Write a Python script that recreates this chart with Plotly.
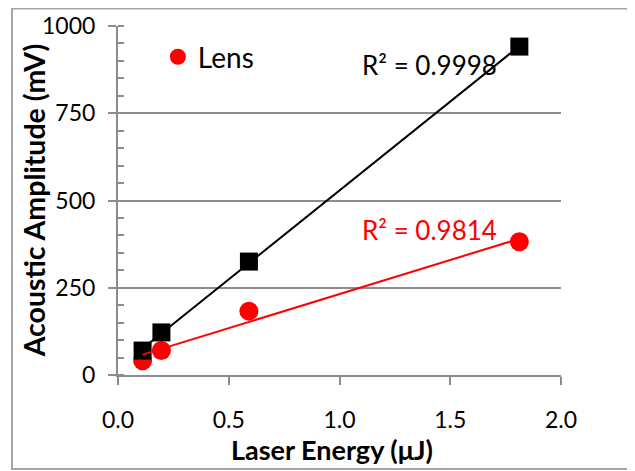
import numpy as np
import plotly.graph_objects as go

# Data
energy = [0.111, 0.196, 0.591, 1.812]          # Laser Energy (µJ)
amp_black = [70, 122, 325, 941]                # Acoustic amplitude, black series (mV)
amp_lens = [41, 70, 183, 382]                  # Acoustic amplitude, "Lens" series (mV)
r2_black_label = "R² = 0.9998"
r2_lens_label = "R² = 0.9814"
x_ticks = [0.0, 0.5, 1.0, 1.5, 2.0]
x_tick_text = ["0.0", "0.5", "1.0", "1.5", "2.0"]
y_ticks = [0, 250, 500, 750, 1000]

FONT = "Lato"
GRID = "#8c8c8c"

def fit_line(x, y):
    k, b = np.polyfit(x, y, 1)
    xs = [min(x), max(x)]
    return xs, [k * v + b for v in xs]

fig = go.Figure()

# red markers (drawn first)
fig.add_trace(go.Scatter(
    x=energy, y=amp_lens, mode="markers", name="Lens",
    marker=dict(symbol="circle", size=19, color="#ff0000"),
    showlegend=True))
# black markers
fig.add_trace(go.Scatter(
    x=energy, y=amp_black, mode="markers", name="Series1",
    marker=dict(symbol="square", size=18, color="#000000"),
    showlegend=False))
# trendlines
bx, by = fit_line(energy, amp_black)
fig.add_trace(go.Scatter(x=bx, y=by, mode="lines", line=dict(color="#000000", width=2),
                         showlegend=False, hoverinfo="skip"))
rx, ry = fit_line(energy, amp_lens)
fig.add_trace(go.Scatter(x=rx, y=ry, mode="lines", line=dict(color="#ff0000", width=2),
                         showlegend=False, hoverinfo="skip"))

fig.add_annotation(x=1.093, y=888, xref="x", yref="y", text=r2_black_label,
                   showarrow=False, xanchor="left", yanchor="middle",
                   font=dict(family=FONT, size=26, color="#000000"))
fig.add_annotation(x=1.093, y=415, xref="x", yref="y", text=r2_lens_label,
                   showarrow=False, xanchor="left", yanchor="middle",
                   font=dict(family=FONT, size=26, color="#ff0000"))
# axis titles
fig.add_annotation(x=-0.19, y=0.5, xref="paper", yref="paper",
                   text="<b>Acoustic Amplitude (mV)</b>", textangle=-90,
                   showarrow=False, xanchor="center", yanchor="middle",
                   font=dict(family=FONT, size=28.5, color="#000000"))
fig.add_annotation(x=0.482, y=-0.213, xref="paper", yref="paper",
                   text="<b>Laser Energy (μJ)</b>",
                   showarrow=False, xanchor="center", yanchor="middle",
                   font=dict(family=FONT, size=27, color="#000000"))

# outer chart border
fig.add_shape(type="rect", xref="paper", yref="paper",
              x0=-0.2393, x1=1.2, y0=-0.2693, y1=1.050,
              line=dict(color="#a6a6a6", width=2), fillcolor="rgba(0,0,0,0)", layer="below")

fig.update_layout(
    width=627, height=463,
    margin=dict(l=110, r=74, t=18, b=96),
    paper_bgcolor="white", plot_bgcolor="white",
    font=dict(family=FONT, size=23, color="#000000"),
    legend=dict(x=0.09, y=0.911, xanchor="left", yanchor="middle",
                bgcolor="rgba(0,0,0,0)", font=dict(family=FONT, size=28),
                itemsizing="trace"),
    xaxis=dict(
        range=[0, 2.0], tickvals=x_ticks, ticktext=x_tick_text,
        showline=True, linecolor=GRID, linewidth=2,
        ticks="outside", ticklen=8, tickwidth=2, tickcolor=GRID,
        ticklabelstandoff=15, automargin=False,
        showgrid=False, zeroline=False,
    ),
    yaxis=dict(
        range=[0, 1000], tickvals=y_ticks,
        showline=True, linecolor=GRID, linewidth=2,
        ticks="outside", ticklen=8, tickwidth=2, tickcolor=GRID,
        ticklabelstandoff=8, automargin=False,
        showgrid=True, gridcolor=GRID, gridwidth=1.5,
        zeroline=False,
        minor=dict(dtick=50, ticks="inside", ticklen=6, tickwidth=1.5, tickcolor=GRID, showgrid=False),
    ),
)

fig.write_html("out.html")
